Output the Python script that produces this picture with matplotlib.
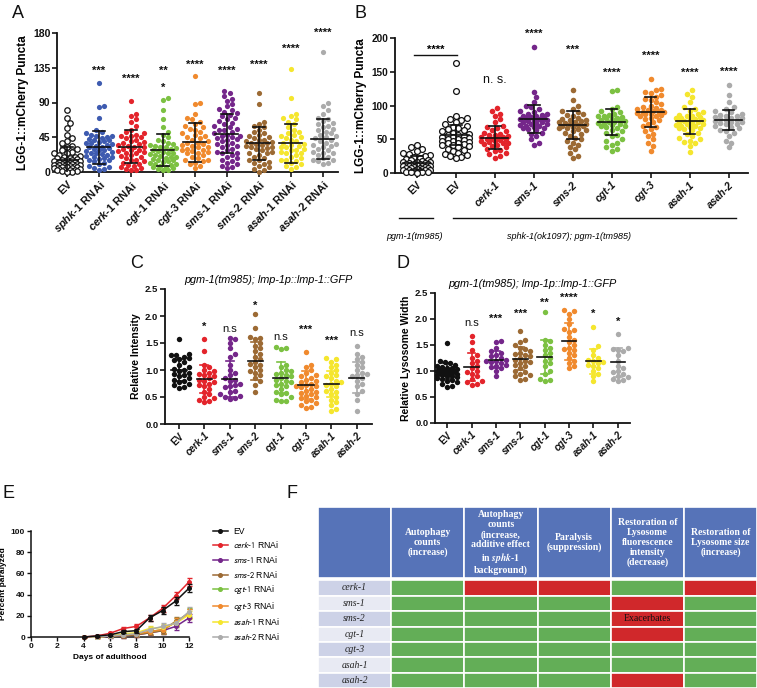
import numpy as np
import matplotlib
matplotlib.use('Agg')
import matplotlib.pyplot as plt
from matplotlib.patches import Rectangle
from matplotlib.lines import Line2D

plt.rcParams['font.family'] = ['Liberation Sans', 'DejaVu Sans']
plt.rcParams['mathtext.fontset'] = 'custom'
plt.rcParams['mathtext.it'] = 'Liberation Sans:italic:bold'
plt.rcParams['mathtext.rm'] = 'Liberation Sans:bold'
plt.rcParams['mathtext.bf'] = 'Liberation Sans:bold'

# ---------------- colours ----------------
BLACK = '#111111'
BLUE = '#3E5BB0'
RED = '#E3242B'
GREEN = '#7CC142'
ORANGE = '#F08A2E'
PURPLE = '#74268A'
BROWN = '#9C6A34'
YELLOW = '#F5E62E'
GRAY = '#ABABAB'

# ---------------- Panel A data ----------------
A_labels = ['EV', r'$sphk$-1 RNAi', r'$cerk$-1 RNAi', r'$cgt$-1 RNAi', r'$cgt$-3 RNAi',
            r'$sms$-1 RNAi', r'$sms$-2 RNAi', r'$asah$-1 RNAi', r'$asah$-2 RNAi']
A_EV = [80, 70, 63, 57, 48, 44, 40, 37, 34, 32, 30, 28, 26, 25, 24, 22, 21, 20, 19, 18, 18, 17, 16,
        15, 15, 14, 14, 13, 13, 12, 12, 11, 11, 10, 10, 10, 9, 9, 9, 8, 8, 8, 7, 7, 6, 6, 5, 5, 4, 4,
        3, 3, 2, 2, 1, 1, 0, 0]
A_sphk1 = [115, 86, 84, 70, 55, 52, 50, 48, 47, 46, 45, 44, 43, 42, 41, 40, 39, 38, 37, 36, 35, 34,
           33, 32, 31, 30, 29, 28, 27, 26, 25, 24, 23, 22, 21, 20, 19, 18, 17, 16, 15, 14, 12, 10, 8,
           6, 5, 4, 3]
A_cerk1 = [92, 75, 72, 68, 65, 60, 55, 52, 50, 48, 47, 46, 45, 44, 42, 40, 39, 38, 36, 35, 34, 33,
           32, 30, 29, 28, 27, 26, 25, 24, 22, 21, 20, 18, 16, 15, 14, 12, 10, 9, 8, 6, 5, 4, 3, 2]
A_cgt1 = [96, 93, 80, 68, 58, 52, 48, 45, 42, 40, 38, 36, 35, 34, 33, 32, 31, 30, 28, 27, 26, 25, 24,
          23, 22, 21, 20, 19, 18, 17, 16, 15, 14, 13, 12, 11, 10, 9, 8, 7, 6, 5, 4, 3, 2]
A_cgt3 = [124, 90, 88, 75, 70, 68, 65, 62, 60, 58, 56, 55, 52, 50, 48, 46, 45, 44, 42, 40, 38, 37,
          36, 35, 34, 33, 32, 30, 29, 28, 27, 26, 25, 24, 22, 20, 18, 16, 15, 14, 12, 10, 8, 5]
A_sms1 = [105, 102, 98, 95, 92, 88, 85, 82, 80, 78, 76, 74, 72, 70, 68, 66, 64, 62, 60, 58, 56, 55,
          54, 52, 50, 48, 47, 46, 45, 44, 43, 42, 40, 38, 36, 35, 34, 32, 30, 28, 26, 25, 24, 22, 20,
          18, 16, 14, 12, 10, 8, 6, 5]
A_sms2 = [102, 88, 65, 62, 60, 58, 55, 52, 50, 48, 46, 45, 44, 42, 41, 40, 39, 38, 37, 36, 35, 34,
          33, 32, 31, 30, 28, 26, 25, 24, 22, 20, 18, 16, 15, 13, 12, 10, 8, 6, 4, 2, 0]
A_asah1 = [134, 96, 75, 72, 70, 68, 65, 62, 58, 55, 52, 50, 48, 46, 45, 44, 42, 40, 38, 36, 35, 34,
           33, 32, 30, 29, 28, 26, 25, 24, 22, 20, 18, 16, 15, 14, 12, 10, 8, 6, 4]
A_asah2 = [155, 90, 85, 80, 75, 70, 68, 66, 64, 62, 60, 58, 56, 54, 52, 50, 48, 46, 45, 44, 42, 40,
           38, 36, 35, 34, 32, 30, 28, 26, 25, 24, 22, 20, 18, 16, 15, 14, 12, 10]
A_groups = [A_EV, A_sphk1, A_cerk1, A_cgt1, A_cgt3, A_sms1, A_sms2, A_asah1, A_asah2]
A_colors = [BLACK, BLUE, RED, GREEN, ORANGE, PURPLE, BROWN, YELLOW, GRAY]
A_means = [16, 32, 33, 28.5, 38.5, 49.5, 37, 37, 43]
A_sds = [17, 21, 21, 20.5, 25, 25.5, 21, 25.5, 25.7]
A_sig = ['', '***', '****', '**', '****', '****', '****', '****', '****']
A_sig_y = [0, 131, 120, 131, 138.5, 131, 138.5, 159, 180.5]
A_sig2 = ['', '', '', '*', '', '', '', '', '']
A_sig2_y = [0, 0, 0, 109, 0, 0, 0, 0, 0]
A_yticks = [0, 45, 90, 135, 180]

# ---------------- Panel B data ----------------
B_labels = ['EV', 'EV', 'cerk-1', 'sms-1', 'sms-2', 'cgt-1', 'cgt-3', 'asah-1', 'asah-2']
B_EV1 = [42, 38, 35, 32, 30, 28, 26, 25, 24, 22, 21, 20, 19, 18, 17, 16, 16, 15, 15, 14, 14, 13, 13,
         12, 12, 11, 11, 10, 10, 9, 9, 8, 8, 7, 7, 6, 6, 5, 5, 4, 4, 3, 3, 2, 2, 1, 1, 0]
B_EV2 = [163, 122, 84, 82, 80, 78, 75, 72, 70, 68, 66, 65, 63, 62, 60, 58, 57, 56, 55, 54, 53, 52,
         51, 50, 49, 48, 47, 46, 45, 44, 43, 42, 41, 40, 38, 36, 34, 32, 30, 28, 26, 25, 23, 22]
B_cerk1 = [96, 92, 88, 85, 80, 75, 70, 68, 66, 64, 62, 60, 58, 57, 56, 55, 54, 53, 52, 51, 50, 50,
           49, 48, 47, 46, 45, 44, 43, 42, 40, 38, 36, 34, 32, 30, 28, 25, 22]
B_sms1 = [187, 120, 112, 105, 100, 98, 95, 92, 90, 88, 87, 86, 85, 84, 83, 82, 81, 80, 80, 79, 78,
          77, 76, 75, 74, 73, 72, 71, 70, 69, 68, 67, 66, 65, 63, 60, 58, 55, 50, 45, 42]
B_sms2 = [123, 108, 100, 95, 92, 90, 88, 86, 84, 82, 80, 79, 78, 77, 76, 75, 74, 73, 72, 71, 70, 69,
          68, 67, 66, 65, 64, 62, 60, 58, 55, 52, 50, 48, 45, 42, 38, 35, 30, 25, 22]
B_cgt1 = [123, 122, 98, 95, 92, 90, 88, 86, 85, 84, 83, 82, 81, 80, 79, 78, 77, 76, 75, 74, 73, 72,
          71, 70, 69, 68, 66, 64, 62, 60, 57, 55, 50, 47, 45, 42, 38, 35, 33]
B_cgt3 = [139, 125, 123, 120, 118, 115, 113, 110, 108, 105, 102, 100, 98, 96, 95, 94, 93, 92, 91,
          90, 90, 89, 88, 87, 86, 85, 84, 82, 80, 78, 75, 72, 70, 68, 65, 62, 58, 55, 50, 45, 40, 32]
B_asah1 = [123, 117, 112, 105, 98, 95, 92, 90, 88, 86, 85, 84, 83, 82, 81, 80, 79, 78, 77, 76, 75,
           74, 73, 72, 71, 70, 69, 68, 67, 66, 65, 63, 60, 58, 55, 52, 50, 48, 46, 45, 40, 31]
B_asah2 = [130, 115, 105, 98, 95, 92, 90, 88, 86, 85, 84, 83, 82, 81, 80, 79, 78, 77, 76, 75, 74,
           73, 72, 70, 68, 66, 64, 62, 60, 55, 48, 45, 38]
B_groups = [B_EV1, B_EV2, B_cerk1, B_sms1, B_sms2, B_cgt1, B_cgt3, B_asah1, B_asah2]
B_colors = [BLACK, BLACK, RED, PURPLE, BROWN, GREEN, ORANGE, YELLOW, GRAY]
B_means = [15, 56, 52.5, 80, 71, 75.5, 90, 76.5, 78.5]
B_sds = [10, 15, 17.5, 21, 21, 19.5, 22.5, 18.5, 15]
B_sig = ['', '', 'n. s.', '****', '***', '****', '****', '****', '****']
B_sig_y = [0, 0, 137.6, 206, 183, 148.4, 174, 148.4, 150]
B_yticks = [0, 50, 100, 150, 200]
B_genotypes = ['pgm-1(tm985)', 'sphk-1(ok1097); pgm-1(tm985)']

# ---------------- Panels C / D data ----------------
CD_labels = ['EV', 'cerk-1', 'sms-1', 'sms-2', 'cgt-1', 'cgt-3', 'asah-1', 'asah-2']
CD_colors = [BLACK, RED, PURPLE, BROWN, GREEN, ORANGE, YELLOW, GRAY]
CD_yticks = [0.0, 0.5, 1.0, 1.5, 2.0, 2.5]
C_EV = [1.58, 1.3, 1.28, 1.27, 1.25, 1.22, 1.2, 1.18, 1.15, 1.1, 1.05, 1.02, 1.0, 0.98, 0.95, 0.92,
        0.9, 0.88, 0.85, 0.82, 0.8, 0.78, 0.75, 0.72, 0.68, 0.66]
C_cerk1 = [1.58, 1.35, 1.1, 1.05, 1.0, 0.98, 0.95, 0.92, 0.9, 0.88, 0.85, 0.82, 0.8, 0.78, 0.75,
           0.72, 0.7, 0.65, 0.6, 0.55, 0.5, 0.48, 0.45, 0.42, 0.4]
C_sms1 = [1.6, 1.58, 1.5, 1.4, 1.3, 1.25, 1.1, 1.0, 0.95, 0.9, 0.85, 0.82, 0.8, 0.75, 0.72, 0.7,
          0.68, 0.62, 0.6, 0.55, 0.52, 0.5, 0.48, 0.46]
C_sms2 = [2.03, 1.78, 1.62, 1.6, 1.58, 1.5, 1.45, 1.4, 1.35, 1.3, 1.25, 1.2, 1.15, 1.12, 1.1, 1.05,
          1.0, 0.98, 0.95, 0.9, 0.85, 0.8, 0.72, 0.6]
C_cgt1 = [1.42, 1.4, 1.38, 1.1, 1.05, 1.0, 0.98, 0.95, 0.92, 0.9, 0.88, 0.85, 0.82, 0.8, 0.78, 0.75,
          0.72, 0.7, 0.65, 0.6, 0.58, 0.55, 0.5, 0.45, 0.42, 0.42]
C_cgt3 = [1.33, 1.1, 1.05, 1.0, 0.95, 0.9, 0.88, 0.85, 0.82, 0.8, 0.78, 0.75, 0.72, 0.7, 0.7, 0.68,
          0.65, 0.62, 0.6, 0.58, 0.55, 0.52, 0.5, 0.48, 0.45, 0.42, 0.38, 0.35, 0.32, 0.3]
C_asah1 = [1.22, 1.2, 1.15, 1.1, 1.05, 1.0, 0.95, 0.9, 0.88, 0.85, 0.8, 0.78, 0.75, 0.72, 0.7, 0.65,
           0.62, 0.6, 0.55, 0.5, 0.45, 0.4, 0.35, 0.28, 0.25]
C_asah2 = [1.45, 1.3, 1.25, 1.2, 1.15, 1.1, 1.05, 1.0, 0.95, 0.92, 0.9, 0.88, 0.85, 0.8, 0.75, 0.7,
           0.62, 0.55, 0.45, 0.25]
C_groups = [C_EV, C_cerk1, C_sms1, C_sms2, C_cgt1, C_cgt3, C_asah1, C_asah2]
C_means = [1.0, 0.84, 0.83, 1.17, 0.86, 0.73, 0.74, 0.86]
C_sds = [0.2, 0.26, 0.33, 0.35, 0.28, 0.26, 0.24, 0.28]
C_sig = ['', '*', 'n.s', '*', 'n.s', '***', '***', 'n.s']
C_sig_y = [0, 1.80, 1.75, 2.19, 1.62, 1.74, 1.54, 1.68]

D_EV = [1.53, 1.2, 1.18, 1.15, 1.12, 1.1, 1.08, 1.06, 1.05, 1.04, 1.03, 1.02, 1.01, 1.0, 1.0, 0.99,
        0.98, 0.97, 0.96, 0.95, 0.95, 0.94, 0.93, 0.92, 0.9, 0.9, 0.88, 0.87, 0.85, 0.83, 0.8, 0.78,
        0.75, 0.72, 0.7]
D_cerk1 = [1.68, 1.55, 1.4, 1.3, 1.25, 1.2, 1.15, 1.1, 1.05, 1.0, 0.98, 0.95, 0.9, 0.85, 0.8, 0.78,
           0.75, 0.73]
D_sms1 = [1.58, 1.55, 1.45, 1.38, 1.35, 1.3, 1.28, 1.25, 1.22, 1.2, 1.2, 1.18, 1.15, 1.12, 1.1, 1.08,
          1.05, 1.0, 0.9]
D_sms2 = [1.76, 1.6, 1.55, 1.5, 1.45, 1.42, 1.38, 1.35, 1.32, 1.3, 1.28, 1.25, 1.22, 1.2, 1.18, 1.15,
          1.12, 1.1, 1.05, 1.0, 0.98, 0.95, 0.92, 0.9, 0.85, 0.83]
D_cgt1 = [2.13, 1.6, 1.58, 1.5, 1.45, 1.4, 1.35, 1.3, 1.25, 1.2, 1.15, 1.1, 1.0, 0.95, 0.85, 0.82, 0.8]
D_cgt3 = [2.17, 2.15, 2.1, 2.0, 1.9, 1.8, 1.78, 1.75, 1.65, 1.6, 1.55, 1.5, 1.45, 1.42, 1.4, 1.35,
          1.3, 1.25, 1.2, 1.15, 1.1, 1.05]
D_asah1 = [1.84, 1.48, 1.4, 1.3, 1.25, 1.22, 1.2, 1.18, 1.15, 1.12, 1.1, 1.05, 1.0, 0.95, 0.9, 0.8]
D_asah2 = [1.72, 1.45, 1.42, 1.4, 1.38, 1.3, 1.2, 1.1, 1.05, 1.0, 0.98, 0.95, 0.9, 0.88, 0.85, 0.82,
           0.8]
D_groups = [D_EV, D_cerk1, D_sms1, D_sms2, D_cgt1, D_cgt3, D_asah1, D_asah2]
D_means = [1.0, 1.08, 1.22, 1.24, 1.27, 1.57, 1.19, 1.17]
D_sds = [0.15, 0.27, 0.16, 0.23, 0.33, 0.36, 0.24, 0.28]
D_sig = ['', 'n.s', '***', '***', '**', '****', '*', '*']
D_sig_y = [0, 1.93, 2.01, 2.10, 2.31, 2.40, 2.09, 1.94]
CD_title = 'pgm-1(tm985); lmp-1p::lmp-1::GFP'

# ---------------- Panel E data ----------------
E_days = [4, 5, 6, 7, 8, 9, 10, 11, 12]
E_names = ['EV', 'cerk-1', 'sms-1', 'sms-2', 'cgt-1', 'cgt-3', 'asah-1', 'asah-2']
E_colors = [BLACK, RED, PURPLE, BROWN, GREEN, ORANGE, YELLOW, GRAY]
E_EV = [0, 1, 2, 5, 6, 18, 25, 34, 46]
E_cerk1 = [0, 1, 3.5, 8, 10, 18, 27, 39, 52]
E_sms1 = [0, 0, 0.5, 1, 2, 4, 6, 10, 18]
E_sms2 = [0, 0, 1, 1, 2, 4, 6, 15, 22]
E_cgt1 = [0, 0, 1, 2, 3, 5, 7, 14, 23]
E_cgt3 = [0, 0, 1, 2, 3, 5, 7, 14, 22]
E_asah1 = [0, 0, 1, 3, 4, 8, 9, 13, 21]
E_asah2 = [0, 0, 1, 2, 3, 7, 10, 13, 24]
E_err = [0, 0.8, 1.0, 1.5, 2.0, 2.5, 3.0, 3.5, 4.0]
E_series = [E_EV, E_cerk1, E_sms1, E_sms2, E_cgt1, E_cgt3, E_asah1, E_asah2]

# ---------------- Panel F data ----------------
F_genes = ['cerk-1', 'sms-1', 'sms-2', 'cgt-1', 'cgt-3', 'asah-1', 'asah-2']
F_headers = ['Autophagy\ncounts\n(increase)',
             'Autophagy\ncounts\n(increase,\nadditive effect\nin $\\mathbfit{sphk}$-$\\mathbf{1}$\nbackground)',
             'Paralysis\n(suppression)',
             'Restoration of\nLysosome\nfluorescence\nintensity\n(decrease)',
             'Restoration of\nLysosome size\n(increase)']
F_status = [[1, 0, 0, 1, 0],
            [1, 1, 1, 0, 1],
            [1, 1, 1, 0, 1],
            [1, 1, 1, 0, 1],
            [1, 1, 1, 1, 1],
            [1, 1, 1, 1, 1],
            [1, 1, 1, 0, 1]]
F_notes = [['', '', '', '', ''], ['', '', '', '', ''], ['', '', '', 'Exacerbates', ''],
           ['', '', '', '', ''], ['', '', '', '', ''], ['', '', '', '', ''], ['', '', '', '', '']]

# ================= figure =================
W, H = 757, 688
fig = plt.figure(figsize=(W / 100, H / 100), dpi=100)


def rect(l, t, r, b):
    return [l / W, 1 - b / H, (r - l) / W, (b - t) / H]


def swarm_offsets(vals, ppu, d, maxhalf):
    vals = np.asarray(vals, float)
    order = np.argsort(vals)
    px, py = [], []
    offs = np.zeros(len(vals))
    step = d * 0.5
    cands = [0.0]
    k = 1
    while k * step <= maxhalf:
        cands += [k * step, -k * step]
        k += 1
    for i in order:
        y = vals[i] * ppu
        best, bestd = 0.0, -1
        ax_ = np.array(px)
        ay_ = np.array(py)
        for c in cands:
            dist = np.min(np.hypot(ax_ - c, ay_ - y)) if len(px) else np.inf
            if dist >= d:
                best = c
                break
            if dist > bestd:
                bestd, best = dist, c
        offs[i] = best
        px.append(best)
        py.append(y)
    return offs


def style(ax, lw=1.3, tl=3.6, fs=7.5):
    for s in ['top', 'right']:
        ax.spines[s].set_visible(False)
    for s in ['left', 'bottom']:
        ax.spines[s].set_linewidth(lw)
        ax.spines[s].set_color(BLACK)
    ax.tick_params(axis='both', direction='out', length=tl, width=lw * 0.9, labelsize=fs, pad=1.2,
                   colors=BLACK)


def dot_panel(ax, groups, colors, hollow, means, sds, ppu, ppc, d, maxhalf, s, mean_half,
              cap_half, bar_colors, lw=1.2):
    for i, vals in enumerate(groups):
        vals = np.asarray(vals, float)
        off = swarm_offsets(vals, ppu, d, maxhalf) / ppc
        if hollow[i]:
            ax.scatter(i + off, vals, s=s * 1.1, facecolors='white', edgecolors=colors[i],
                       linewidths=0.9, zorder=3, clip_on=False)
        else:
            ax.scatter(i + off, vals, s=s, color=colors[i], linewidths=0, zorder=3, clip_on=False)
        m, sd = means[i], sds[i]
        bc = bar_colors[i]
        ax.plot([i, i], [m - sd, m + sd], color=bc, lw=lw, zorder=4)
        ax.plot([i - cap_half, i + cap_half], [m + sd] * 2, color=bc, lw=lw, zorder=4)
        ax.plot([i - cap_half, i + cap_half], [m - sd] * 2, color=bc, lw=lw, zorder=4)
        ax.plot([i - mean_half, i + mean_half], [m] * 2, color=BLACK, lw=lw, zorder=5)


def sig_text(ax, xs, ys, labels, fs_star=8, fs_ns=8):
    for x, y, t in zip(xs, ys, labels):
        if not t:
            continue
        if 'n' in t:
            ax.text(x, y, t, ha='center', va='center', fontsize=fs_ns, color=BLACK, clip_on=False)
        else:
            ax.text(x, y, t, ha='center', va='center', fontsize=fs_star, fontweight='bold',
                    color=BLACK, clip_on=False)


# ---------- Panel A ----------
axA = fig.add_axes(rect(57, 33, 338, 172))
style(axA)
dot_panel(axA, A_groups, A_colors, [True] + [False] * 8, A_means, A_sds, 139 / 180, 32, 5.2, 13,
          14, 0.36, 0.19, [BLACK] * 9)
axA.set_xlim(-0.31, 8.47)
axA.set_ylim(0, 180)
axA.set_yticks(A_yticks)
axA.set_yticklabels([str(v) for v in A_yticks], fontweight='bold')
axA.set_xticks(range(9))
axA.set_xticklabels(A_labels, rotation=45, ha='right', rotation_mode='anchor', fontsize=8,
                    fontweight='bold')
axA.set_ylabel('LGG-1::mCherry Puncta', fontsize=8.5, fontweight='bold', labelpad=3)
sig_text(axA, range(9), A_sig_y, A_sig)
sig_text(axA, range(9), A_sig2_y, A_sig2)

# ---------- Panel B ----------
axB = fig.add_axes(rect(395, 38, 748, 173))
style(axB)
dot_panel(axB, B_groups, B_colors, [True, True] + [False] * 7, B_means, B_sds, 135 / 200, 39, 5.4,
          15, 16, 0.35, 0.15, [BLACK] * 9)
axB.set_xlim(-0.56, 8.5)
axB.set_ylim(0, 200)
axB.set_yticks(B_yticks)
axB.set_yticklabels([str(v) for v in B_yticks], fontweight='bold', fontsize=7.2)
axB.set_xticks(range(9))
axB.set_xticklabels(B_labels, rotation=45, ha='right', rotation_mode='anchor', fontsize=7.5,
                    fontweight='bold')
for t in axB.get_xticklabels()[2:]:
    t.set_fontstyle('italic')
axB.set_ylabel('LGG-1::mCherry Puncta', fontsize=8.5, fontweight='bold', labelpad=3)
sig_text(axB, range(9), B_sig_y, B_sig, fs_ns=9)
axB.plot([-0.08, 1.03], [175.5, 175.5], color=BLACK, lw=1.0, clip_on=False)
axB.text(0.48, 182, '****', ha='center', va='center', fontsize=8, fontweight='bold', clip_on=False)
trB = axB.get_xaxis_transform()
axB.plot([-0.46, 0.41], [-0.333, -0.333], color=BLACK, lw=1.0, transform=trB, clip_on=False)
axB.plot([0.92, 8.2], [-0.333, -0.333], color=BLACK, lw=1.0, transform=trB, clip_on=False)
axB.text(-0.05, -0.467, B_genotypes[0], transform=trB, ha='center', va='center', fontsize=6.5,
         fontstyle='italic')
axB.text(3.9, -0.467, B_genotypes[1], transform=trB, ha='center', va='center', fontsize=6.5,
         fontstyle='italic')


# ---------- Panels C, D ----------
def cd_panel(box, groups, means, sds, sig, sig_y, ylabel, ppu, ppc, xl):
    ax = fig.add_axes(rect(*box))
    style(ax, fs=6.8)
    dot_panel(ax, groups, CD_colors, [False] * 8, means, sds, ppu, ppc, 5.0, 11, 15, 0.3, 0.16,
              CD_colors)
    ax.set_xlim(*xl)
    ax.set_ylim(0, 2.5)
    ax.set_yticks(CD_yticks)
    ax.set_yticklabels(['%.1f' % v for v in CD_yticks], fontweight='bold')
    ax.set_xticks(range(8))
    ax.set_xticklabels(CD_labels, rotation=45, ha='right', rotation_mode='anchor', fontsize=7,
                       fontweight='bold')
    for t in ax.get_xticklabels()[1:]:
        t.set_fontstyle('italic')
    ax.set_ylabel(ylabel, fontsize=7.5, fontweight='bold', labelpad=3)
    sig_text(ax, range(8), sig_y, sig)
    ax.set_title(CD_title, fontsize=7.8, fontstyle='italic', pad=4)
    return ax


axC = cd_panel((165, 289, 372, 424), C_groups, C_means, C_sds, C_sig, C_sig_y,
               'Relative Intensity', 54, 25.3, (-0.55, 7.6))
axD = cd_panel((435, 293, 630, 423), D_groups, D_means, D_sds, D_sig, D_sig_y,
               'Relative Lysosome Width', 52, 24.3, (-0.5, 7.5))

# ---------- Panel E ----------
axE = fig.add_axes(rect(31, 531, 189, 637))
style(axE, lw=1.1, tl=3, fs=6)
order = [2, 3, 4, 5, 6, 7, 1, 0]
for k in order:
    axE.errorbar(E_days, E_series[k], yerr=E_err, color=E_colors[k], lw=1.1, marker='o', ms=2.6,
                 capsize=1.8, elinewidth=0.8, zorder=3 + (k == 0) + (k == 1) * 0.5, clip_on=False)
axE.set_xlim(0, 12)
axE.set_ylim(0, 100)
axE.set_xticks(range(0, 13, 2))
axE.set_xticklabels([str(v) for v in range(0, 13, 2)], fontweight='bold')
axE.set_yticks(range(0, 101, 20))
axE.set_yticklabels([str(v) for v in range(0, 101, 20)], fontweight='bold')
axE.set_xlabel('Days of adulthood', fontsize=6, fontweight='bold', labelpad=3)
axE.set_ylabel('Percent paralyzed', fontsize=6, fontweight='bold', labelpad=3)
handles = [Line2D([], [], color=c, lw=1.1, marker='o', ms=2.6) for c in E_colors]
labels = ['EV'] + [r'$\mathit{%s}$-$\mathit{%s}$ RNAi' % tuple(n.split('-')) for n in E_names[1:]]
leg = axE.legend(handles, labels, loc='upper left', bbox_to_anchor=(1.15, 1.04), frameon=False,
                 fontsize=6.2, handlelength=1.8, handletextpad=0.6, labelspacing=0.42,
                 borderpad=0, borderaxespad=0)
for t in leg.get_texts():
    t.set_math_fontfamily('stixsans')

# ---------- Panel F (table) ----------
HEAD = '#5673B8'
ROW_DARK = '#CDD2E7'
ROW_LIGHT = '#E8EAF3'
CGREEN = '#63AE57'
CRED = '#D0282B'
tax = fig.add_axes(rect(318, 507, 757, 688))
tax.set_xlim(0, 6)
tax.set_ylim(11.72, 0)
tax.axis('off')
HH = 4.62
for j in range(6):
    tax.add_patch(Rectangle((j, 0), 1, HH, facecolor=HEAD, edgecolor='white', lw=1.2))
for j, h in enumerate(F_headers):
    tax.text(j + 1.5, HH / 2, h, ha='center', va='center', fontsize=7, color='white',
             family='Liberation Serif', fontweight='bold', linespacing=1.12, math_fontfamily='stix')
for r, g in enumerate(F_genes):
    y0 = HH + 0.12 + r
    tax.add_patch(Rectangle((0, y0), 1, 1, facecolor=ROW_DARK if r % 2 == 0 else ROW_LIGHT,
                            edgecolor='white', lw=1.2))
    tax.text(0.5, y0 + 0.5, g, ha='center', va='center', fontsize=7, color='#222222',
             family='Liberation Serif', fontstyle='italic')
    for j, st in enumerate(F_status[r]):
        tax.add_patch(Rectangle((j + 1, y0), 1, 1, facecolor=CGREEN if st else CRED,
                                edgecolor='white', lw=1.2))
        if F_notes[r][j]:
            tax.text(j + 1.5, y0 + 0.5, F_notes[r][j], ha='center', va='center', fontsize=7,
                     color='#111111', family='Liberation Serif')

# ---------- panel letters ----------
for letter, x, y in [('A', 12, 13), ('B', 355, 13), ('C', 130, 263), ('D', 397, 263),
                     ('E', 2, 493), ('F', 287, 493)]:
    fig.text(x / W, 1 - y / H, letter, fontsize=13, ha='left', va='center', color=BLACK)

fig.savefig('out.png', dpi=100)
